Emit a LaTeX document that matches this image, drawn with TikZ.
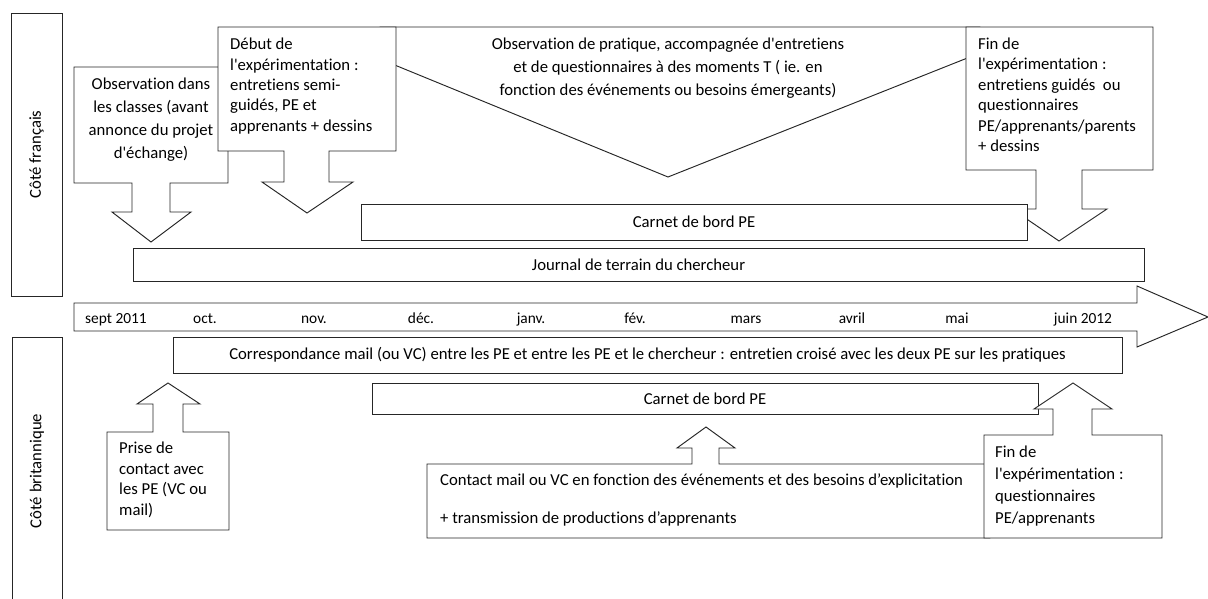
\documentclass[tikz,border=0pt]{standalone}
\usepackage{fontspec}
\setmainfont{Carlito}[Ligatures={TeXOff,CommonOff}]
\usepackage{tikz}

\begin{document}
\begin{tikzpicture}[x=1pt, y=-1pt,
    shp/.style={draw=black!85, line width=0.95pt, fill=white},
    bar/.style={shp, minimum height=36pt, inner sep=0pt, font=\fontsize{16.7}{20}\selectfont},
    txt/.style={inner sep=0pt, font=\fontsize{16.7}{#1}\selectfont},
    txt/.default=20.5,
    month/.style={inner sep=0pt, anchor=base, font=\fontsize{15.4}{18}\selectfont}]
            \useasboundingbox (0,0) rectangle (1208,599);

            %Side labels.
            \node (fr) at (36.5, 154.5) [shp, rotate=90, minimum width=283pt, minimum height=51pt, font=\fontsize{16.7}{20}\selectfont] {Côté français};
            \node (gb) at (37, 471) [shp, rotate=90, minimum width=268pt, minimum height=50pt, font=\fontsize{16.7}{20}\selectfont] {Côté britannique};

            %French side: callouts pointing down.
            \draw[shp] (380,27) -- (980,27) -- (980,53) -- (668,177) -- (380,59) -- cycle;
            \node (obsp) at (668, 68) [txt=23.2, align=center] {Observation de pratique, accompagnée d'entretiens\\et de questionnaires à des moments T ( ie. en\\fonction des événements ou besoins émergeants)};

            \draw[shp] (74,67) -- (228,67) -- (228,183) -- (170,183) -- (170,212) -- (191,212) -- (151,242)
                -- (112,212) -- (132,212) -- (132,183) -- (74,183) -- cycle;
            \node (obs) at (151, 120) [txt=23, align=center] {Observation dans\\les classes (avant\\annonce du projet\\d'échange)};

            \draw[shp] (218,27) -- (396,27) -- (396,151) -- (329,151) -- (329,182) -- (353,182) -- (307,213)
                -- (262,182) -- (284,182) -- (284,151) -- (218,151) -- cycle;
            \node (debut) at (230, 86) [txt=20.3, anchor=west, align=left] {Début de\\l'expérimentation :\\entretiens semi-\\guidés, PE et\\apprenants + dessins};

            \draw[shp] (966,27) -- (1153,27) -- (1153,170) -- (1082,170) -- (1082,209) -- (1107,209) -- (1059,241)
                -- (1012,209) -- (1036,209) -- (1036,170) -- (966,170) -- cycle;
            \node (finfr) at (978, 95) [txt=20.5, anchor=west, align=left] {Fin de\\l'expérimentation :\\entretiens guidés~ ou\\questionnaires\\PE/apprenants/parents\\+ dessins};

            \node (carnetfr) at (694, 222) [bar, minimum width=666pt] {Carnet de bord PE};
            \node (journal) at (638.5, 264.5) [bar, minimum width=1011pt, minimum height=33pt] {Journal de terrain du chercheur};

            %Time line.
            \draw[shp] (74,303) -- (1137,303) -- (1137,286) -- (1208,317) -- (1137,347) -- (1137,331) -- (74,331) -- cycle;
            \foreach \x/\m in {116/sept 2011, 205/oct., 314/nov., 421/déc., 531/janv., 635/fév., 746/mars, 852/avril, 957/mai, 1083/juin 2012}
                \node at (\x, 323) [month] {\m};

            %British side: callouts pointing up.
            \node (corresp) at (647.5, 355) [bar, minimum width=949pt] {Correspondance mail (ou VC) entre les PE et entre les PE et le chercheur : entretien croisé avec les deux PE sur les pratiques};

            \draw[shp] (107,432) -- (153,432) -- (153,404) -- (137,404) -- (168,383) -- (200,404) -- (183,404)
                -- (183,432) -- (229,432) -- (229,530) -- (107,530) -- cycle;
            \node (prise) at (119, 480) [txt=20.7, anchor=west, align=left] {Prise de\\contact avec\\les PE (VC ou\\mail)};

            \node (carnetgb) at (705, 398.5) [bar, minimum width=666pt, minimum height=31pt] {Carnet de bord PE};

            \draw[shp] (427,464) -- (692,464) -- (692,448) -- (677,448) -- (706,427) -- (735,448) -- (719,448)
                -- (719,464) -- (990,464) -- (990,538) -- (427,538) -- cycle;
            \node (contact) at (440, 500) [txt=38, anchor=west, align=left] {Contact mail ou VC en fonction des événements et des besoins d’explicitation\\+ transmission de productions d’apprenants};

            \draw[shp] (984,435) -- (1053,435) -- (1053,409) -- (1034,409) -- (1073,383) -- (1112,409) -- (1092,409)
                -- (1092,435) -- (1162,435) -- (1162,538) -- (984,538) -- cycle;
            \node (fingb) at (995, 486) [txt=22, anchor=west, align=left] {Fin de\\l'expérimentation :\\questionnaires\\PE/apprenants};
        \end{tikzpicture}
\end{document}
